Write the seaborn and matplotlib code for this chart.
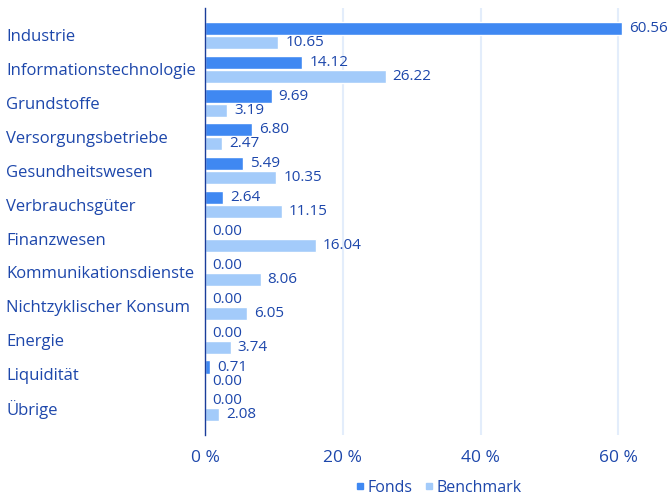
import pandas as pd
import numpy as np
import matplotlib
matplotlib.use('Agg')
import matplotlib.pyplot as plt
import seaborn as sns
from matplotlib.lines import Line2D

sectors = ['Industrie', 'Informationstechnologie', 'Grundstoffe', 'Versorgungsbetriebe',
           'Gesundheitswesen', 'Verbrauchsgüter', 'Finanzwesen', 'Kommunikationsdienste',
           'Nichtzyklischer Konsum', 'Energie', 'Liquidität', 'Übrige']
fonds = [60.56, 14.12, 9.69, 6.80, 5.49, 2.64, 0.00, 0.00, 0.00, 0.00, 0.71, 0.00]
benchmark = [10.65, 26.22, 3.19, 2.47, 10.35, 11.15, 16.04, 8.06, 6.05, 3.74, 0.00, 2.08]
x_ticks = [0, 20, 40, 60]

text_col = '#1d47ab'
fonds_col = '#3f88f2'
bench_col = '#a3cbfa'

df = pd.DataFrame({'sector': sectors * 2,
                   'value': fonds + benchmark,
                   'type': ['Fonds'] * len(sectors) + ['Benchmark'] * len(sectors)})

sns.set_style('white')
plt.rcParams['font.family'] = ['Open Sans', 'DejaVu Sans']

fig = plt.figure(figsize=(6.7, 4.98), dpi=100)
ax = fig.add_axes([0.306, 0.1265, 0.694, 0.857])

sns.barplot(data=df, x='value', y='sector', hue='type', orient='h',
            palette={'Fonds': fonds_col, 'Benchmark': bench_col}, saturation=1,
            width=0.83, gap=0.07, legend=False, ax=ax, zorder=3)

for c in ax.containers:
    ax.bar_label(c, fmt='%.2f', padding=5, color=text_col, fontsize=11)

ax.set_xlim(0, 67.5)
ax.set_ylim(11.8, -0.8)
ax.set_xticks(x_ticks)
ax.set_xticklabels([f'{t} %' for t in x_ticks])
ax.grid(axis='x', color='#e3edfb', linewidth=1.5, zorder=0)
ax.grid(axis='y', visible=False)
for s in ['top', 'right', 'bottom']:
    ax.spines[s].set_visible(False)
ax.spines['left'].set_color('#1a3d9a')
ax.spines['left'].set_linewidth(1)
ax.spines['left'].set_zorder(5)

ax.tick_params(axis='x', length=0, pad=11, labelsize=12.5, labelcolor=text_col)
ax.tick_params(axis='y', length=0, pad=143, labelsize=12, labelcolor=text_col)
for lbl in ax.get_yticklabels():
    lbl.set_horizontalalignment('left')
ax.set_xlabel('')
ax.set_ylabel('')

handles = [Line2D([], [], marker='s', linestyle='', color=fonds_col, markersize=4),
           Line2D([], [], marker='s', linestyle='', color=bench_col, markersize=4)]
leg = ax.legend(handles, ['Fonds', 'Benchmark'], loc='center',
                bbox_to_anchor=(0.5, -0.124), ncol=2, frameon=False,
                fontsize=11.5, handletextpad=0.1, columnspacing=0.6, handlelength=0.8)
for t in leg.get_texts():
    t.set_color(text_col)

fig.savefig('out.png', dpi=100)
